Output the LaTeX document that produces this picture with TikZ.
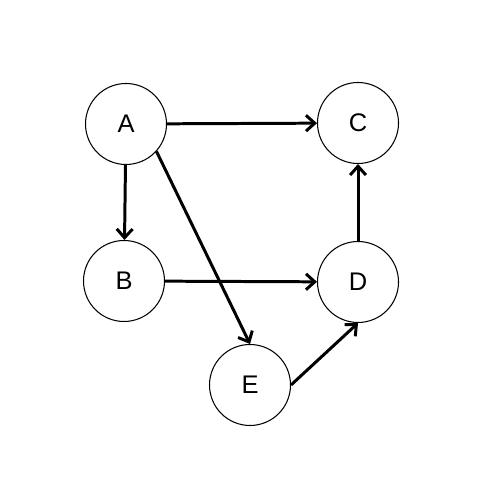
\documentclass[tikz,border=0pt]{standalone}
\usepackage{fontspec}
\setmainfont{Liberation Sans}
\usepackage{tikz}
\usetikzlibrary{arrows.meta}

\begin{document}
\begin{tikzpicture}[vertex/.style={circle,draw,line width=0.6pt,minimum size=1.62cm,inner sep=0pt,font=\fontsize{14.5}{17}\selectfont},
edge/.style={-{Straight Barb[length=5pt,width=9pt]},line width=1.7pt}]

\useasboundingbox (0,0) rectangle (10,10);

\node[vertex] (A) at (2.52,7.52) {A};
\node[vertex] (C) at (7.16,7.54) {C};
\node[vertex] (B) at (2.48,4.38) {B};
\node[vertex] (D) at (7.16,4.36) {D};
\node[vertex] (E) at (5.0,2.3) {E};

\draw[edge] (A) -- (C);
\draw[edge] (A) -- (B);
\draw[edge] (A.-42) -- (E.north);
\draw[edge] (B) -- (D);
\draw[edge] (D) -- (C);
\draw[edge] (E.east) -- (D.south);

\end{tikzpicture}
\end{document}
